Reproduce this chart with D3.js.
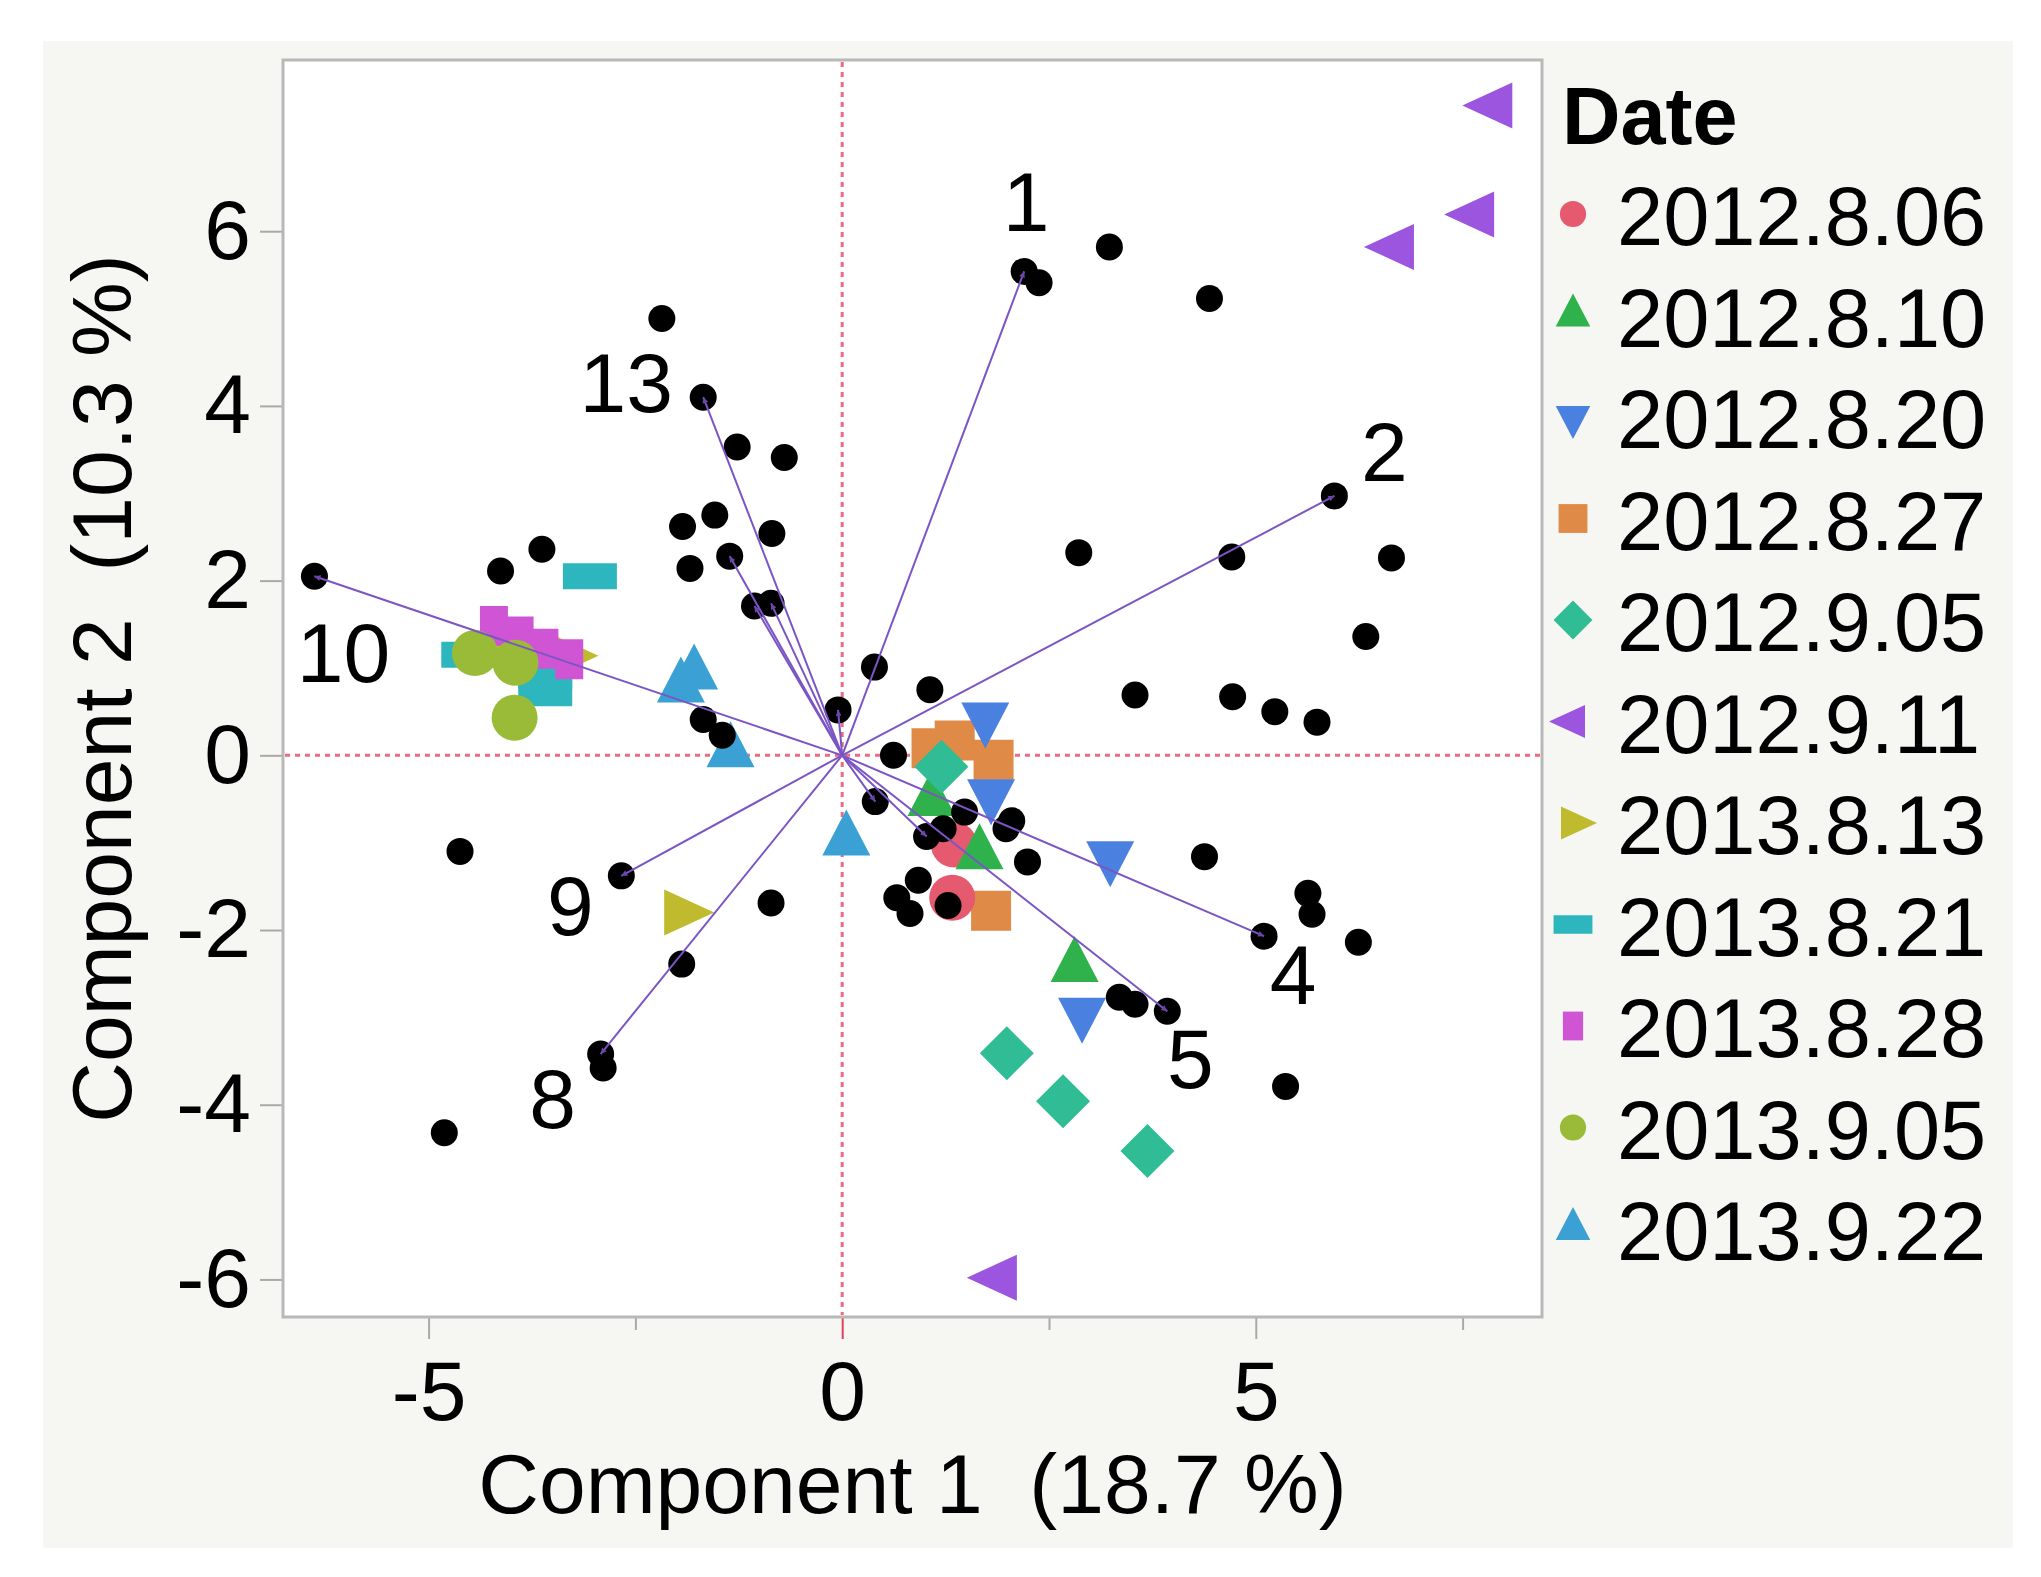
<!DOCTYPE html>
<meta charset="utf-8">
<style>
  body { margin: 0; background: #fff; }
  text { font-family: "Liberation Sans", Arial, sans-serif; }
</style>
<svg width="2041" height="1577"></svg>
<script src="https://cdn.jsdelivr.net/npm/d3@7"></script>
<script>

    // legend categories
    var dates = ["2012.8.06", "2012.8.10", "2012.8.20", "2012.8.27", "2012.9.05", "2012.9.11",
                 "2013.8.13", "2013.8.21", "2013.8.28", "2013.9.05", "2013.9.22"];

    // scores per date, [component 1, component 2]
    var d20120806 = [[1.35, -1.02], [1.33, -1.63]];
    var d20120810 = [[1.08, -0.52], [1.66, -1.13], [2.81, -2.42]];
    var d20120820 = [[1.73, 0.43], [1.80, -0.45], [3.24, -1.16], [2.90, -2.95]];
    var d20120827 = [[1.08, 0.08], [1.36, 0.17], [1.83, -0.05], [1.80, -1.78]];
    var d20120905 = [[1.20, -0.13], [1.99, -3.41], [2.67, -3.96], [3.69, -4.53]];
    var d20120911 = [[7.90, 7.44], [7.68, 6.19], [6.71, 5.82], [1.91, -5.98]];
    var d20130813 = [[-4.00, 1.36], [-3.35, 1.14], [-1.95, -1.80]];
    var d20130821 = [[-3.05, 2.05], [-4.52, 1.15], [-3.59, 0.91], [-3.59, 0.71]];
    var d20130828 = [[-4.21, 1.48], [-3.90, 1.36], [-3.60, 1.22], [-3.30, 1.10]];
    var d20130905 = [[-4.44, 1.17], [-3.95, 1.06], [-3.96, 0.43]];
    var d20130922 = [[-1.79, 0.93], [-1.95, 0.78], [-1.35, 0.04], [0.05, -0.97]];

    // loadings (black dots)
    var loadings = [
        [-6.38, 2.05], [-4.13, 2.11], [-3.63, 2.36], [-2.18, 5.00], [-1.68, 4.10], [-1.27, 3.53],
        [-0.70, 3.41], [-1.93, 2.62], [-1.54, 2.75], [-0.85, 2.54], [-1.84, 2.14], [-1.36, 2.28],
        [-1.06, 1.71], [-0.86, 1.74], [-0.05, 0.52], [0.39, 1.01], [-1.68, 0.41], [-1.45, 0.23],
        [1.06, 0.75], [3.54, 0.69], [0.62, 0.00], [0.40, -0.53], [1.02, -0.93], [1.22, -0.84],
        [1.48, -0.65], [2.05, -0.75], [1.98, -0.84], [2.24, -1.22], [0.92, -1.43], [0.66, -1.63],
        [0.82, -1.81], [1.28, -1.72], [4.38, -1.16], [3.35, -2.77], [3.54, -2.85], [3.93, -2.93],
        [2.20, 5.54], [2.38, 5.41], [3.23, 5.82], [4.44, 5.23], [5.95, 2.97], [2.86, 2.32],
        [4.71, 2.27], [6.64, 2.26], [6.33, 1.36], [4.72, 0.67], [5.23, 0.50], [5.74, 0.38],
        [5.63, -1.58], [5.68, -1.82], [6.24, -2.14], [5.10, -2.07], [5.36, -3.79],
        [-4.62, -1.10], [-2.67, -1.38], [-0.86, -1.69], [-1.94, -2.39], [-2.92, -3.42],
        [-2.89, -3.58], [-4.81, -4.32]
    ];

    // biplot rays
    var rayEnds = [[2.20, 5.54], [5.95, 2.97], [5.10, -2.07], [3.93, -2.93], [-2.92, -3.42],
                   [-2.67, -1.38], [-6.38, 2.05], [-1.68, 4.10], [-1.36, 2.28], [-1.06, 1.71],
                   [-0.86, 1.74], [-0.05, 0.52], [0.40, -0.53], [1.02, -0.93]];
    var rayLabels = ["1", "2", "4", "5", "8", "9", "10", "13", "", "", "", "", "", ""];

    var xTicks = [-5, 0, 5];
    var xMinorTicks = [-2.5, 2.5, 7.5];
    var yTicks = [-6, -4, -2, 0, 2, 4, 6];
    var xTitle = "Component 1  (18.7 %)";
    var yTitle = "Component 2  (10.3 %)";
    var legendTitle = "Date";

    var seriesData = [d20120806, d20120810, d20120820, d20120827, d20120905, d20120911,
                      d20130813, d20130821, d20130828, d20130905, d20130922];
    var colors = ["#e55a6e", "#2fb24b", "#4a80df", "#df8a47", "#30bd96", "#9b55de",
                  "#c0bb2e", "#2db6bd", "#d055d5", "#9abb37", "#3ba1d4"];
    var shapes = ["circle", "up", "down", "square", "diamond", "left",
                  "right", "wide", "tall", "circle", "up"];
    var drawOrder = [3, 0, 1, 4, 2, 5, 6, 7, 8, 9, 10];

    // label nudges in px from the ray end
    var labelNudge = {"1": [2, -40], "2": [50, -15], "4": [29, 68], "5": [23, 77],
                      "8": [-48, 74], "9": [-51, 59], "10": [29, 106], "13": [-77, 15]};

    var svg = d3.select("svg"),
        pLeft = 283, pRight = 1542, pTop = 60, pBottom = 1317;

    var x = d3.scaleLinear().domain([-6.76, 8.46]).range([pLeft, pRight]);
    var y = d3.scaleLinear().domain([-6.43, 7.96]).range([pBottom, pTop]);

    function shapePath(type, k) {
        var w, h, a;
        if (type == "circle") {
            var r = 23 * k;
            return d3.symbol(d3.symbolCircle, Math.PI * r * r)();
        }
        if (type == "up" || type == "down") {
            w = 48 * k; h = 46 * k;
            var s = type == "up" ? 1 : -1;
            return "M0," + (-s * 2 * h / 3) + "L" + (w / 2) + "," + (s * h / 3) + "L" + (-w / 2) + "," + (s * h / 3) + "Z";
        }
        if (type == "left" || type == "right") {
            w = 46 * k; h = 50 * k;
            var t = type == "left" ? 1 : -1;
            return "M" + (-t * 2 * h / 3) + ",0L" + (t * h / 3) + "," + (-w / 2) + "L" + (t * h / 3) + "," + (w / 2) + "Z";
        }
        if (type == "diamond") {
            a = 27 * k;
            return "M0," + (-a) + "L" + a + ",0L0," + a + "L" + (-a) + ",0Z";
        }
        if (type == "square") { w = 40 * k; h = 40 * k; }
        if (type == "wide") { w = 54 * k; h = 26 * k; }
        if (type == "tall") { w = 28 * k; h = 40 * k; }
        return "M" + (-w / 2) + "," + (-h / 2) + "h" + w + "v" + h + "h" + (-w) + "Z";
    }

    // panel background
    svg.append("rect").attr("x", 43).attr("y", 41).attr("width", 1970).attr("height", 1507)
        .attr("fill", "#f6f6f2");
    svg.append("rect").attr("x", pLeft).attr("y", pTop).attr("width", pRight - pLeft).attr("height", pBottom - pTop)
        .attr("fill", "#fff");

    // axes
    var gx = svg.append("g").attr("transform", "translate(0," + pBottom + ")")
        .call(d3.axisBottom(x).tickValues(xTicks).tickSize(22).tickPadding(21).tickFormat(function(d) {return String(d)}));
    var gxm = svg.append("g").attr("transform", "translate(0," + pBottom + ")")
        .call(d3.axisBottom(x).tickValues(xMinorTicks).tickSize(13).tickFormat(""));
    var gy = svg.append("g").attr("transform", "translate(" + pLeft + ",0)")
        .call(d3.axisLeft(y).tickValues(yTicks).tickSize(23).tickPadding(9).tickFormat(function(d) {return String(d)}));

    [gx, gxm, gy].forEach(function(g) {
        g.select(".domain").remove();
        g.selectAll(".tick line").attr("stroke", "#a9a9a9").attr("stroke-width", 2);
        g.selectAll(".tick text").attr("fill", "#000").attr("font-size", 84)
            .style("font-family", "'Liberation Sans', Arial, sans-serif");
    });
    gx.selectAll(".tick line").filter(function(d) {return d === 0}).attr("stroke", "#e0405e");

    svg.append("rect").attr("x", pLeft).attr("y", pTop).attr("width", pRight - pLeft).attr("height", pBottom - pTop)
        .attr("fill", "none").attr("stroke", "#b8b8b8").attr("stroke-width", 3);

    // reference lines
    svg.append("line").attr("x1", pLeft + 2).attr("x2", pRight - 2).attr("y1", y(0)).attr("y2", y(0))
        .attr("stroke", "#ec6a84").attr("stroke-width", 3).attr("stroke-dasharray", "5,5");
    svg.append("line").attr("x1", x(0)).attr("x2", x(0)).attr("y1", pTop + 2).attr("y2", pBottom - 2)
        .attr("stroke", "#ec6a84").attr("stroke-width", 3).attr("stroke-dasharray", "5,5");

    // colored score markers
    drawOrder.forEach(function(i) {
        svg.append("g").selectAll("path")
            .data(seriesData[i])
            .enter().append("path")
            .attr("transform", function(d) {return "translate(" + x(d[0]) + "," + y(d[1]) + ")"})
            .attr("d", shapePath(shapes[i], 1))
            .attr("fill", colors[i]);
    });

    // loadings
    svg.append("g").selectAll("circle")
        .data(loadings)
        .enter().append("circle")
        .attr("cx", function(d) {return x(d[0])})
        .attr("cy", function(d) {return y(d[1])})
        .attr("r", 13.5)
        .attr("fill", "#000");

    // rays, with a small tip that sits inside the end dot
    svg.append("defs").append("marker")
        .attr("id", "tip").attr("viewBox", "0 0 10 10").attr("refX", 10).attr("refY", 5)
        .attr("markerWidth", 9).attr("markerHeight", 6).attr("markerUnits", "userSpaceOnUse")
        .attr("orient", "auto")
        .append("path").attr("d", "M0,0L10,5L0,10Z").attr("fill", "#6b45a8");

    svg.append("g").selectAll("line")
        .data(rayEnds)
        .enter().append("line")
        .attr("x1", x(0)).attr("y1", y(0))
        .attr("x2", function(d) {return x(d[0])})
        .attr("y2", function(d) {return y(d[1])})
        .attr("stroke", "#7b55c4").attr("stroke-width", 2)
        .attr("marker-end", "url(#tip)");

    svg.append("g").selectAll("text")
        .data(rayEnds.filter(function(d, i) {return rayLabels[i] !== ""}))
        .enter().append("text")
        .attr("x", function(d, i) {return x(d[0]) + labelNudge[rayLabels[i]][0]})
        .attr("y", function(d, i) {return y(d[1]) + labelNudge[rayLabels[i]][1]})
        .attr("text-anchor", "middle")
        .attr("font-size", 84)
        .text(function(d, i) {return rayLabels[i]});

    // axis titles
    svg.append("text").attr("x", (pLeft + pRight) / 2).attr("y", 1513)
        .attr("text-anchor", "middle").attr("font-size", 84).style("white-space", "pre").text(xTitle);
    svg.append("text").attr("transform", "translate(131," + ((pTop + pBottom) / 2) + ") rotate(-90)")
        .attr("text-anchor", "middle").attr("font-size", 84).style("white-space", "pre").text(yTitle);

    // legend
    svg.append("text").attr("x", 1562).attr("y", 144).attr("font-size", 81)
        .attr("font-weight", "bold").text(legendTitle);

    var leg = svg.append("g").selectAll("g")
        .data(dates)
        .enter().append("g")
        .attr("transform", function(d, i) {return "translate(0," + (245 + i * 101.5) + ")"});
    leg.append("path")
        .attr("transform", "translate(1573,-31)")
        .attr("d", function(d, i) {return shapePath(shapes[i], shapes[i] == "circle" ? 0.57 : 0.72)})
        .attr("fill", function(d, i) {return colors[i]});
    leg.append("text")
        .attr("x", 1617).attr("y", 0)
        .attr("font-size", 83)
        .text(function(d) {return d});

</script>
